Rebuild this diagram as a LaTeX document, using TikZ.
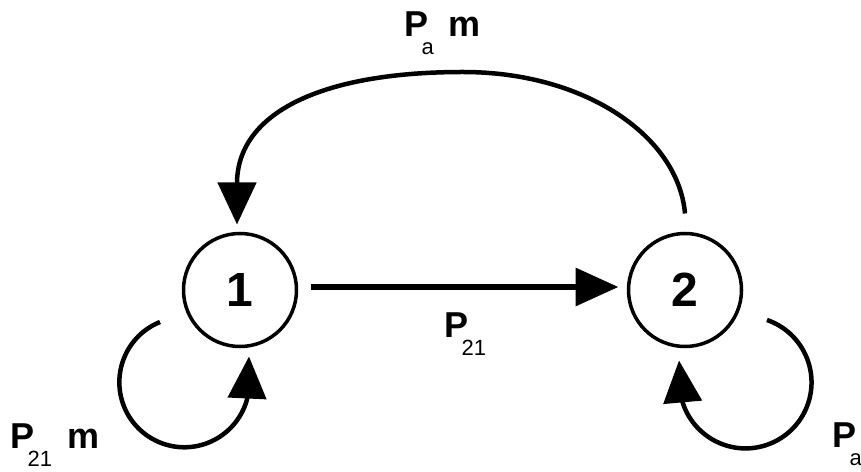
\documentclass[tikz,border=0pt]{standalone}
\usepackage{fontspec}
\setmainfont{Liberation Sans}
\usetikzlibrary{arrows.meta}
\newcommand{\psub}[1]{P\kern-7pt\raisebox{-18pt}{\fontsize{22}{22}\selectfont\mdseries #1}}

\begin{document}
\begin{tikzpicture}[x=1pt,y=1pt,
		state/.style={circle,draw,line width=3.5pt,minimum size=113pt,inner sep=0,outer sep=0,font=\fontsize{48}{48}\selectfont\bfseries},
		lbl/.style={inner sep=0,anchor=base west,font=\fontsize{36}{36}\selectfont\bfseries},
		curve/.style={line width=4.5pt,-{Triangle[length=42pt,width=38pt]}},
		flow/.style={line width=6.5pt,-{Triangle[length=43pt,width=37pt]}}]
			\useasboundingbox (0,0) rectangle (861,471);
			\node[state] (n1) at (240,181) {1};
			\node[state] (n2) at (685,181) {2};
			\coordinate (top) at (463,399);
			\draw[flow,shorten <=14pt,shorten >=10pt] ([yshift=3]n1.east) -- ([yshift=3]n2.west);
			\draw[curve] ([yshift=20]n2.north) .. controls +(95:77) and +(0:123) .. (top)
				.. controls +(180:145) and +(90:110) .. ([shift={(-3,9)}]n1.north);
			\draw[curve] ([shift={(-80,-32)}]n1.center) arc[start angle=112,end angle=344.5,radius=65] -- ([shift={(9,-10)}]n1.south);
			\draw[curve] ([shift={(82,-30)}]n2.center) arc[start angle=71,end angle=-162,radius=66] -- ([shift={(-6,-14)}]n2.south);
			\node[lbl] (l21) at (444.5,133) {\psub{21}};
			\node[lbl] (la) at (404.5,434) {\psub{a}\hspace{15pt}m};
			\node[lbl] (l1) at (10.5,23) {\psub{21}\hspace{15pt}m};
			\node[lbl] (l2) at (832.5,24) {\psub{a}};
		\end{tikzpicture}
\end{document}
